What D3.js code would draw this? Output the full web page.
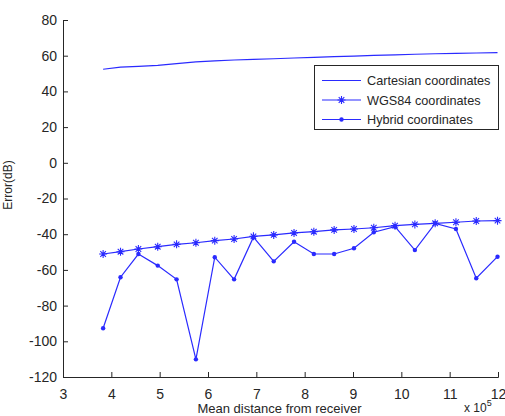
<!DOCTYPE html>
<html><head><meta charset="utf-8">
<script src="https://cdn.jsdelivr.net/npm/d3@7"></script>
<style>
body{margin:0;background:#fff;}
svg{display:block;}
text{font-family:Arial,"Liberation Sans",sans-serif;fill:#262626;}
</style></head>
<body>
<script>
// Data (x in units of 10^5 m)
const xValues = [3.83,4.19,4.56,4.96,5.35,5.75,6.14,6.54,6.94,7.36,7.78,8.19,8.61,9.02,9.43,9.87,10.28,10.70,11.13,11.55,11.99];
const cartesian = [52.4,53.6,54.0,54.6,55.6,56.5,57.1,57.6,57.9,58.3,58.7,59.1,59.5,59.8,60.2,60.5,60.8,61.1,61.3,61.5,61.7];
const wgs84 = [-51.1,-49.8,-48.3,-47.0,-45.7,-44.8,-43.6,-42.7,-41.2,-40.4,-39.3,-38.6,-37.6,-37.1,-36.4,-35.2,-34.5,-33.9,-33.3,-32.6,-32.4];
const hybrid = [-92.7,-64.1,-51.1,-57.6,-65.3,-110.1,-52.9,-65.3,-41.7,-55.2,-44.2,-51.1,-51.1,-47.9,-38.9,-35.8,-48.9,-33.9,-37.1,-64.7,-52.6];
const xTicks = [3,4,5,6,7,8,9,10,11,12];
const yTicks = [80,60,40,20,0,-20,-40,-60,-80,-100,-120];
const seriesNames = ["Cartesian coordinates","WGS84 coordinates","Hybrid coordinates"];

const W = 505, H = 416;
const L = 63, R = 498, T = 20, B = 377;
const blue = "#2a2aff";

const svg = d3.select("body").append("svg").attr("width", W).attr("height", H);
const x = d3.scaleLinear().domain([3,12]).range([L,R]);
const y = d3.scaleLinear().domain([-120,80]).range([B,T]);

// axes
const fmt = d => String(d);
const xAxis = svg.append("g").attr("transform",`translate(0,${B})`)
  .call(d3.axisBottom(x).tickValues(xTicks).tickSize(-5).tickPadding(9).tickFormat(fmt));
const yAxis = svg.append("g").attr("transform",`translate(${L},0)`)
  .call(d3.axisLeft(y).tickValues(yTicks).tickSize(-5).tickPadding(6).tickFormat(fmt));
[xAxis,yAxis].forEach(g=>{
  g.select(".domain").attr("stroke","#262626");
  g.selectAll(".tick line").attr("stroke","#262626");
  g.selectAll(".tick text").style("font-size","14px").style("font-family","Arial,'Liberation Sans',sans-serif").attr("fill","#262626");
});
xAxis.selectAll(".tick text").attr("dy","0.95em");

// labels
svg.append("text").attr("x", (L+R)/2 - 1).attr("y", 413).attr("text-anchor","middle")
  .style("font-size","13px").text("Mean distance from receiver");
svg.append("text").attr("transform","translate(12,185) rotate(-90)").attr("text-anchor","middle")
  .style("font-size","12px").text("Error(dB)");
const ex = svg.append("text").attr("x",464).attr("y",412).style("font-size","12px");
ex.append("tspan").text("x 10");
ex.append("tspan").attr("dy",-6).style("font-size","9px").text("5");

const line = d3.line().x((d,i)=>x(xValues[i])).y(d=>y(d));

function star(g, cx, cy, s){
  g.append("path").attr("stroke",blue).attr("stroke-width",1.1).attr("fill","none")
    .attr("d",`M${cx-s},${cy}H${cx+s}M${cx},${cy-s}V${cy+s}M${cx-s*0.7},${cy-s*0.7}L${cx+s*0.7},${cy+s*0.7}M${cx-s*0.7},${cy+s*0.7}L${cx+s*0.7},${cy-s*0.7}`);
}

// Cartesian
svg.append("path").datum(cartesian).attr("d",line).attr("fill","none").attr("stroke",blue).attr("stroke-width",1.2);
// WGS84
svg.append("path").datum(wgs84).attr("d",line).attr("fill","none").attr("stroke",blue).attr("stroke-width",1.2);
const sg = svg.append("g");
wgs84.forEach((d,i)=>star(sg, x(xValues[i]), y(d), 4));
// Hybrid
svg.append("path").datum(hybrid).attr("d",line).attr("fill","none").attr("stroke",blue).attr("stroke-width",1.2);
svg.append("g").selectAll("circle").data(hybrid).join("circle")
  .attr("cx",(d,i)=>x(xValues[i])).attr("cy",d=>y(d)).attr("r",2.2).attr("fill",blue);

// legend
const lg = svg.append("g");
lg.append("rect").attr("x",314.5).attr("y",65.5).attr("width",184).attr("height",64)
  .attr("fill","#fff").attr("stroke","#262626").attr("stroke-width",1);
seriesNames.forEach((n,i)=>{
  const yy = 80.5 + i*19.5;
  lg.append("line").attr("x1",322).attr("x2",361).attr("y1",yy).attr("y2",yy).attr("stroke",blue).attr("stroke-width",1.2);
  if(i===1) star(lg, 341.5, yy, 4);
  if(i===2) lg.append("circle").attr("cx",341.5).attr("cy",yy).attr("r",2.2).attr("fill",blue);
  lg.append("text").attr("x",367).attr("y",yy+4.5).style("font-size","12.7px").text(n);
});
</script>
</body></html>
